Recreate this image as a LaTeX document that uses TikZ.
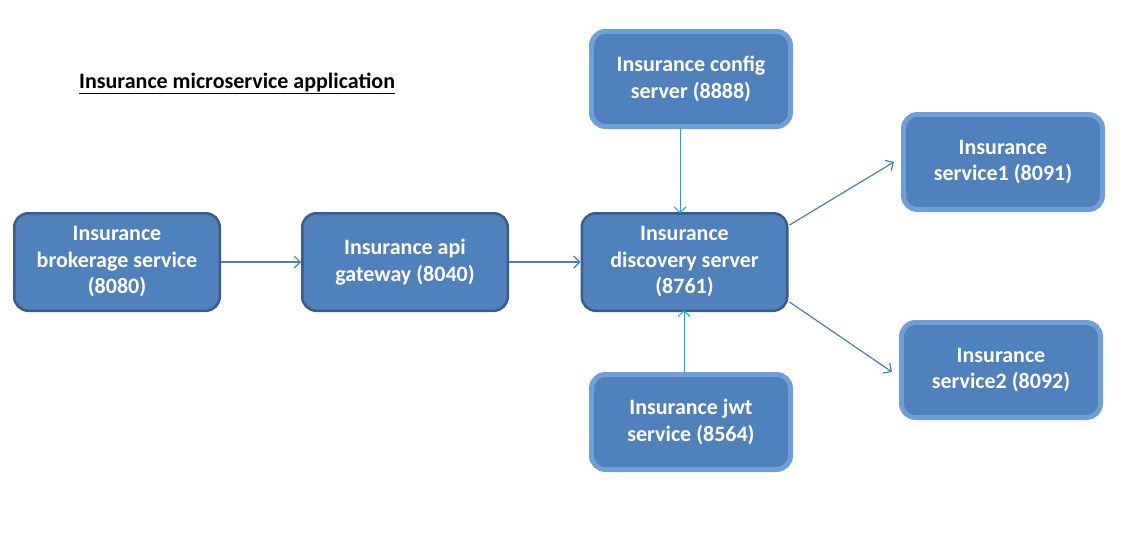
\documentclass[tikz,border=0pt]{standalone}
\usepackage{fontspec}
\setmainfont{Carlito}
\usetikzlibrary{arrows.meta}
\definecolor{boxfill}{HTML}{4F81BD}
\definecolor{darkedge}{HTML}{385D8A}
\definecolor{lightedge}{HTML}{6E9FD6}
\definecolor{arrowblue}{HTML}{4A7EBB}
\definecolor{arrowcyan}{HTML}{00A8E8}
\tikzset{
  basebox/.style={fill=boxfill, rounded corners=14pt, text=white, align=center,
    font=\fontsize{22}{26.5}\selectfont\bfseries, inner sep=0pt},
  darkbox/.style={basebox, draw=darkedge, line width=2.5pt, minimum width=205.5pt, minimum height=97.5pt},
  lightbox/.style={basebox, draw=lightedge, line width=5pt, minimum width=199pt, minimum height=95pt},
  bluearrow/.style={draw=arrowblue, line width=1.2pt, -{Straight Barb[length=6pt,width=12pt,line width=1.2pt]}},
  cyanarrow/.style={draw=arrowcyan, line width=1pt, -{Straight Barb[length=6pt,width=12pt,line width=1pt]}}
}
\begin{document}
\begin{tikzpicture}[x=1pt,y=-1pt]
\useasboundingbox (0,0) rectangle (1127,533);
\node[font=\fontsize{22}{26}\selectfont\bfseries, anchor=base west, inner sep=0pt] (title) at (79,88) {\underline{Insurance microservice application}};
\node[darkbox] (broker) at (117,262) {Insurance\\brokerage service\\(8080)};
\node[darkbox] (gateway) at (405,262) {Insurance api\\gateway (8040)};
\node[darkbox] (disc) at (684.5,262) {Insurance\\discovery server\\(8761)};
\node[lightbox] (config) at (691,79) {Insurance config\\server (8888)};
\node[lightbox] (svc1) at (1003,162) {Insurance\\service1 (8091)};
\node[lightbox] (svc2) at (1001,370) {Insurance\\service2 (8092)};
\node[lightbox] (jwt) at (691,422) {Insurance jwt\\service (8564)};
\draw[bluearrow] (broker.east) -- (gateway.west);
\draw[bluearrow] (gateway.east) -- (disc.west);
\draw[cyanarrow] ([xshift=-11pt]config.south) -- ([xshift=-4.5pt,yshift=-1.5pt]disc.north);
\draw[cyanarrow] ([xshift=-7pt]jwt.north) -- ([xshift=-0.5pt,yshift=2pt]disc.south);
\draw[bluearrow] ([xshift=1pt,yshift=-13pt]disc.north east) -- ([xshift=-7pt]svc1.west);
\draw[bluearrow] ([xshift=1pt,yshift=10pt]disc.south east) -- ([xshift=-7pt,yshift=-2pt]svc2.west);
\end{tikzpicture}
\end{document}
